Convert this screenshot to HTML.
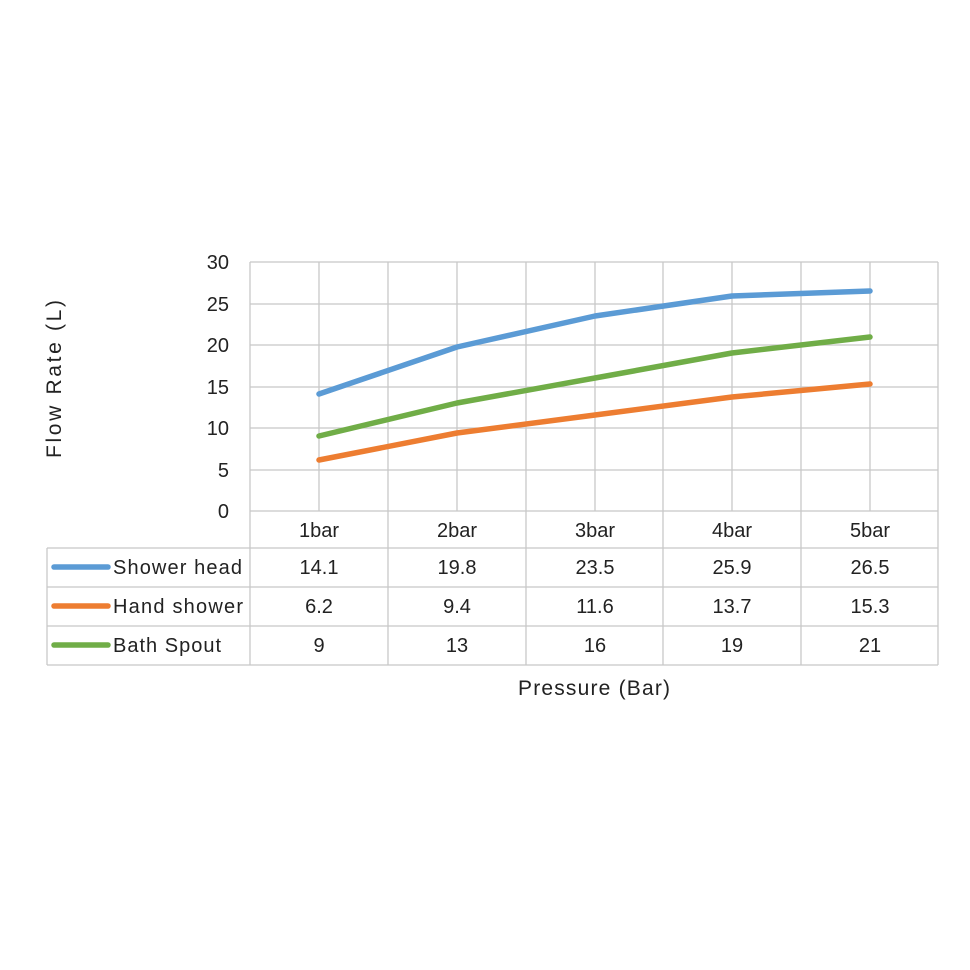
<!DOCTYPE html>
<html><head><style>body{margin:0;background:#fff}svg{display:block}</style></head><body>
<svg width="970" height="970" xmlns="http://www.w3.org/2000/svg" font-family="Liberation Sans, sans-serif" fill="#222">
<g stroke="#c8c8c8" stroke-width="1.3" fill="none">
<line x1="250" y1="262" x2="938" y2="262"/><line x1="250" y1="304" x2="938" y2="304"/>
<line x1="250" y1="345" x2="938" y2="345"/><line x1="250" y1="387" x2="938" y2="387"/>
<line x1="250" y1="428" x2="938" y2="428"/><line x1="250" y1="470" x2="938" y2="470"/>
<line x1="250" y1="511" x2="938" y2="511"/>
<line x1="319" y1="262" x2="319" y2="511"/><line x1="457" y1="262" x2="457" y2="511"/>
<line x1="595" y1="262" x2="595" y2="511"/><line x1="732" y1="262" x2="732" y2="511"/>
<line x1="870" y1="262" x2="870" y2="511"/>
<line x1="250" y1="262" x2="250" y2="665"/><line x1="388" y1="262" x2="388" y2="665"/>
<line x1="526" y1="262" x2="526" y2="665"/><line x1="663" y1="262" x2="663" y2="665"/>
<line x1="801" y1="262" x2="801" y2="665"/><line x1="938" y1="262" x2="938" y2="665"/>
<line x1="47" y1="548" x2="938" y2="548"/><line x1="47" y1="587" x2="938" y2="587"/>
<line x1="47" y1="626" x2="938" y2="626"/><line x1="47" y1="665" x2="938" y2="665"/>
<line x1="47" y1="548" x2="47" y2="665"/>
</g>
<g font-size="20" text-anchor="end">
<text x="229" y="269">30</text><text x="229" y="311">25</text><text x="229" y="352">20</text>
<text x="229" y="394">15</text><text x="229" y="435">10</text><text x="229" y="477">5</text><text x="229" y="518">0</text>
</g>
<text font-size="21" transform="translate(61,379) rotate(-90)" text-anchor="middle" textLength="158">Flow Rate (L)</text>
<g fill="none" stroke-width="5.5" stroke-linecap="round" stroke-linejoin="round">
<polyline stroke="#5b9bd5" points="319,394 457,347 595,316 732,296 870,291"/>
<polyline stroke="#ed7d31" points="319,460 457,433 595,415 732,397 870,384"/>
<polyline stroke="#70ad47" points="319,436 457,403 595,378 732,353 870,337"/>
<line stroke="#5b9bd5" x1="54" y1="567" x2="108" y2="567"/>
<line stroke="#ed7d31" x1="54" y1="606" x2="108" y2="606"/>
<line stroke="#70ad47" x1="54" y1="645" x2="108" y2="645"/>
</g>
<g font-size="20">
<text x="113" y="574" textLength="129">Shower head</text><text x="113" y="613" textLength="130">Hand shower</text><text x="113" y="652" textLength="108">Bath Spout</text>
</g>
<g font-size="20" text-anchor="middle">
<text x="319" y="537">1bar</text><text x="457" y="537">2bar</text><text x="595" y="537">3bar</text><text x="732" y="537">4bar</text><text x="870" y="537">5bar</text>
<text x="319" y="574">14.1</text><text x="457" y="574">19.8</text><text x="595" y="574">23.5</text><text x="732" y="574">25.9</text><text x="870" y="574">26.5</text>
<text x="319" y="613">6.2</text><text x="457" y="613">9.4</text><text x="595" y="613">11.6</text><text x="732" y="613">13.7</text><text x="870" y="613">15.3</text>
<text x="319" y="652">9</text><text x="457" y="652">13</text><text x="595" y="652">16</text><text x="732" y="652">19</text><text x="870" y="652">21</text>
</g>
<text x="518" y="695" font-size="21" textLength="152">Pressure (Bar)</text>
</svg>
</body></html>
